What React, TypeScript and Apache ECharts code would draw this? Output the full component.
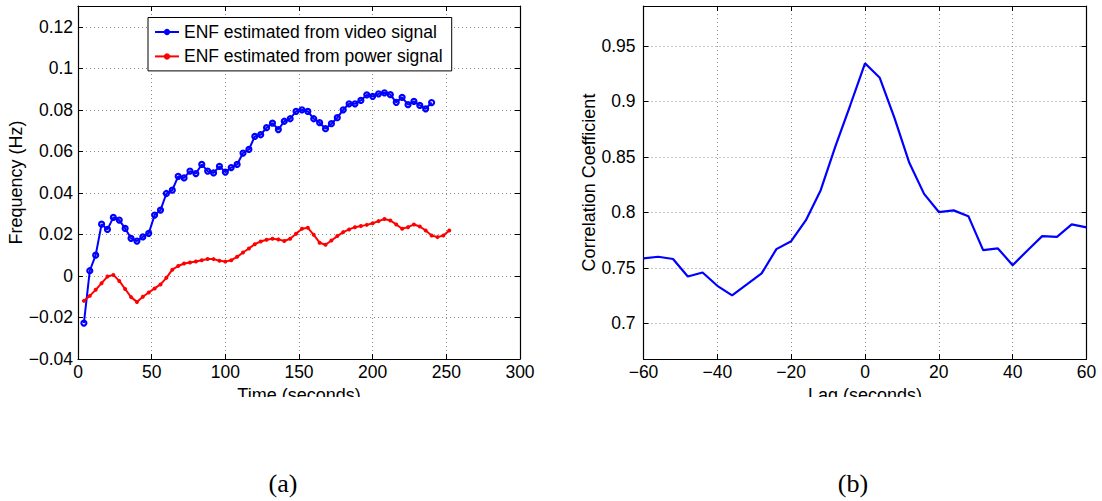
import React, { useEffect, useRef } from "react";
import * as echarts from "echarts";

// ENF traces (Hz deviation) over time
const videoTime = [
  4, 8, 12, 16, 20, 24, 28, 32, 36, 40, 44, 48, 52, 56, 60, 64, 68, 72, 76, 80,
  84, 88, 92, 96, 100, 104, 108, 112, 116, 120, 124, 128, 132, 136, 140, 144, 148, 152, 156, 160,
  164, 168, 172, 176, 180, 184, 188, 192, 196, 200, 204, 208, 212, 216, 220, 224, 228, 232, 236, 240,
];
const videoEnf = [
  -0.0227, 0.0025, 0.01, 0.0249, 0.0224, 0.0282, 0.0269, 0.0229, 0.0181, 0.0168,
  0.0188, 0.0205, 0.0293, 0.0317, 0.0397, 0.0413, 0.048, 0.0472, 0.0505, 0.0493,
  0.0537, 0.0505, 0.0496, 0.0528, 0.05, 0.0522, 0.0537, 0.0592, 0.0609, 0.0672,
  0.068, 0.0714, 0.0736, 0.0705, 0.0745, 0.0757, 0.0793, 0.08, 0.0792, 0.0757,
  0.0738, 0.0709, 0.0733, 0.0762, 0.08, 0.0829, 0.0829, 0.0845, 0.0872, 0.0865,
  0.0877, 0.0882, 0.0873, 0.0836, 0.086, 0.0825, 0.0841, 0.0821, 0.0805, 0.0835,
];
const powerTime = [
  4, 8, 12, 16, 20, 24, 28, 32, 36, 40, 44, 48, 52, 56, 60, 64, 68, 72, 76, 80,
  84, 88, 92, 96, 100, 104, 108, 112, 116, 120, 124, 128, 132, 136, 140, 144, 148, 152, 156, 160,
  164, 168, 172, 176, 180, 184, 188, 192, 196, 200, 204, 208, 212, 216, 220, 224, 228, 232, 236, 240,
  244, 248, 252,
];
const powerEnf = [
  -0.012, -0.0096, -0.0067, -0.0035, -0.0003, 0.0005, -0.0024, -0.0063, -0.0102, -0.0125,
  -0.01, -0.008, -0.006, -0.0041, -0.0009, 0.003, 0.0048, 0.006, 0.0065, 0.007,
  0.0076, 0.0082, 0.0081, 0.0073, 0.0069, 0.0076, 0.0092, 0.0113, 0.0132, 0.0153,
  0.0166, 0.0174, 0.0179, 0.0176, 0.0168, 0.0179, 0.0203, 0.0227, 0.0232, 0.0198,
  0.016, 0.015, 0.0171, 0.0192, 0.0211, 0.0224, 0.0235, 0.024, 0.0246, 0.0254,
  0.0264, 0.0274, 0.0267, 0.0248, 0.0227, 0.0235, 0.0248, 0.0238, 0.0219, 0.0195,
  0.0187, 0.0195, 0.0219,
];

// Cross-correlation of the two traces against lag
const lagSeconds = [
  -60, -56, -52, -48, -44, -40, -36, -32, -28, -24, -20, -16, -12, -8, -4, 0,
  4, 8, 12, 16, 20, 24, 28, 32, 36, 40, 44, 48, 52, 56, 60,
];
const correlation = [
  0.7585, 0.76, 0.758, 0.7422, 0.7458, 0.7338, 0.7251, 0.735, 0.745, 0.7669, 0.774,
  0.793, 0.82, 0.8598, 0.8966, 0.9344, 0.9214, 0.885, 0.8447, 0.8167, 0.8003, 0.8018,
  0.7966, 0.766, 0.7675, 0.7524, 0.7657, 0.7786, 0.778, 0.7892, 0.7865,
];

const FONT = "Liberation Sans, Arial, Helvetica, sans-serif";
const BLUE = "#0000ff";
const RED = "#ff0000";

const fmt = (v: number) => String(Math.round(v * 10000) / 10000).replace("-", "\u2212");

const zip = (xs: number[], ys: number[]) => xs.map((x, i) => [x, ys[i]]);

const gridLine = { show: true, lineStyle: { color: "#8c8c8c", type: [1, 3] as number[], width: 1 } };
const boxLine = { show: true, onZero: false, lineStyle: { color: "#000", width: 1.2 } };
const tickIn = { show: true, inside: true, length: 5, lineStyle: { color: "#000", width: 1 } };
const label = { fontFamily: FONT, fontSize: 17.5, color: "#000" };

export default function App() {
  const ref = useRef<HTMLDivElement>(null);

  useEffect(() => {
    if (!ref.current) return;
    const chart = echarts.init(ref.current, undefined, { renderer: "svg" });

    const leftGrid = { left: 78, top: 6, width: 442, height: 353 };
    const rightGrid = { left: 643.5, top: 6, width: 443, height: 353 };

    chart.setOption({
      animation: false,
      backgroundColor: "#fff",
      grid: [leftGrid, rightGrid],
      legend: {
        left: 148,
        top: 17.5,
        orient: "vertical",
        backgroundColor: "#fff",
        borderColor: "#000",
        borderWidth: 1,
        borderRadius: 0,
        padding: [4.5, 9, 4.5, 6],
        itemGap: 4.4,
        itemWidth: 24,
        itemHeight: 8,
        textStyle: { fontFamily: FONT, fontSize: 17.5, color: "#000", lineHeight: 20 },
        data: [
          {
            name: "ENF estimated from video signal",
            itemStyle: { color: BLUE, borderColor: BLUE, borderWidth: 0 },
          },
          {
            name: "ENF estimated from power signal",
            itemStyle: { color: RED, borderWidth: 0 },
          },
        ],
      },
      xAxis: [
        {
          gridIndex: 0, type: "value", min: 0, max: 300, interval: 50,
          name: "Time (seconds)", nameLocation: "middle", nameGap: 21,
          nameTextStyle: { fontFamily: FONT, fontSize: 18, color: "#000" },
          axisLine: boxLine, axisTick: tickIn, splitLine: gridLine,
          axisLabel: { ...label, margin: 4, formatter: fmt },
        },
        {
          gridIndex: 0, type: "value", position: "top", min: 0, max: 300, interval: 50,
          axisLine: boxLine, axisTick: tickIn, splitLine: { show: false }, axisLabel: { show: false },
        },
        {
          gridIndex: 1, type: "value", min: -60, max: 60, interval: 20,
          name: "Lag (seconds)", nameLocation: "middle", nameGap: 21,
          nameTextStyle: { fontFamily: FONT, fontSize: 18, color: "#000" },
          axisLine: boxLine, axisTick: tickIn, splitLine: gridLine,
          axisLabel: { ...label, margin: 4, formatter: fmt },
        },
        {
          gridIndex: 1, type: "value", position: "top", min: -60, max: 60, interval: 20,
          axisLine: boxLine, axisTick: tickIn, splitLine: { show: false }, axisLabel: { show: false },
        },
      ],
      yAxis: [
        {
          gridIndex: 0, type: "value", min: -0.04, max: 0.13, interval: 0.02,
          name: "Frequency (Hz)", nameLocation: "middle", nameGap: 50,
          nameTextStyle: { fontFamily: FONT, fontSize: 18, color: "#000" },
          axisLine: boxLine, axisTick: tickIn, splitLine: gridLine,
          axisLabel: { ...label, margin: 5, showMaxLabel: false, formatter: fmt },
        },
        {
          gridIndex: 0, type: "value", position: "right", min: -0.04, max: 0.13, interval: 0.02,
          axisLine: boxLine, axisTick: tickIn, splitLine: { show: false }, axisLabel: { show: false },
        },
        {
          gridIndex: 1, type: "value", min: 0.6678, max: 0.9861, splitNumber: 6,
          name: "Correlation Coefficient", nameLocation: "middle", nameGap: 43,
          nameTextStyle: { fontFamily: FONT, fontSize: 18, color: "#000" },
          axisLine: boxLine, axisTick: tickIn, splitLine: gridLine,
          axisLabel: { ...label, margin: 8, showMinLabel: false, showMaxLabel: false, formatter: fmt },
        },
        {
          gridIndex: 1, type: "value", position: "right", min: 0.6678, max: 0.9861, splitNumber: 6,
          axisLine: boxLine, axisTick: tickIn, splitLine: { show: false }, axisLabel: { show: false },
        },
      ],
      series: [
        {
          name: "ENF estimated from video signal",
          type: "line", xAxisIndex: 0, yAxisIndex: 0,
          data: zip(videoTime, videoEnf),
          symbol: "circle", symbolSize: 5,
          lineStyle: { color: BLUE, width: 2 },
          itemStyle: { color: "rgba(255,255,255,0)", borderColor: BLUE, borderWidth: 2.2 },
        },
        {
          name: "ENF estimated from power signal",
          type: "line", xAxisIndex: 0, yAxisIndex: 0,
          data: zip(powerTime, powerEnf),
          symbol: "circle", symbolSize: 4,
          lineStyle: { color: RED, width: 2 },
          itemStyle: { color: RED, borderWidth: 0 },
        },
        {
          name: "Correlation",
          type: "line", xAxisIndex: 2, yAxisIndex: 2,
          data: zip(lagSeconds, correlation),
          showSymbol: false, symbol: "none",
          lineStyle: { color: BLUE, width: 2.2 },
          itemStyle: { color: BLUE },
        },
      ],
      graphic: [
        // the subfigure crop trims the lower part of the x-axis titles
        { type: "rect", z: 100, shape: { x: 0, y: 397, width: 1102, height: 40 }, style: { fill: "#fff" } },
        {
          type: "text", z: 101, x: 283, y: 483,
          style: { text: "(a)", fontFamily: "Liberation Serif, Times New Roman, serif", fontSize: 26, fill: "#000", textAlign: "center", textVerticalAlign: "middle" },
        },
        {
          type: "text", z: 101, x: 853, y: 483,
          style: { text: "(b)", fontFamily: "Liberation Serif, Times New Roman, serif", fontSize: 26, fill: "#000", textAlign: "center", textVerticalAlign: "middle" },
        },
      ],
    });

    return () => chart.dispose();
  }, []);

  return (
    <div
      ref={ref}
      style={{ position: "absolute", left: 0, top: 0, width: 1102, height: 501, background: "#fff" }}
    />
  );
}
